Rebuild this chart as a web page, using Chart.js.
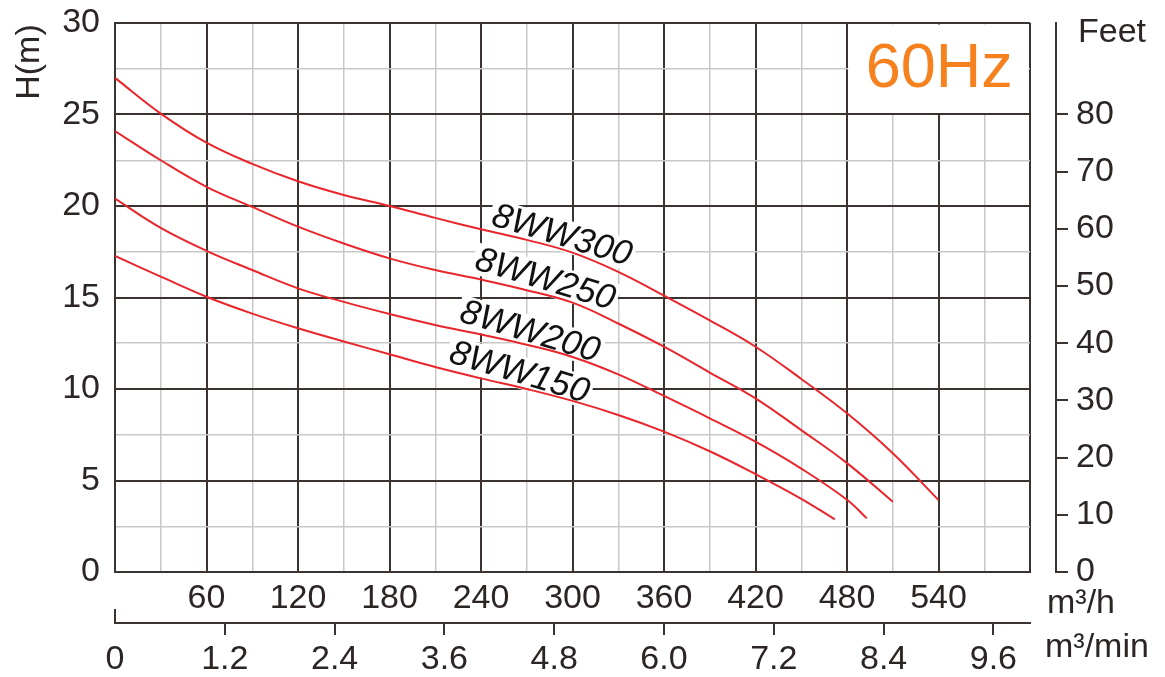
<!DOCTYPE html>
<html><head><meta charset="utf-8">
<script src="https://cdn.jsdelivr.net/npm/chart.js@4.4.1/dist/chart.umd.min.js"></script>
<style>html,body{margin:0;padding:0;background:#fff;overflow:hidden}</style>
</head><body>
<canvas id="c" width="1165" height="677"></canvas>
<script>
// ---- data ----
const flow300 = [0,30,60,90,120,150,180,210,240,270,300,330,360,390,420,450,480,510,540];
const head300 = [27.0,25.05,23.46,22.3,21.35,20.6,20.0,19.35,18.73,18.15,17.45,16.4,15.1,13.75,12.31,10.55,8.67,6.49,3.93];
const flow250 = [0,30,60,90,120,150,180,210,240,270,300,330,360,390,420,450,480,510];
const head250 = [24.1,22.5,21.05,19.95,18.87,17.95,17.14,16.5,15.98,15.4,14.72,13.58,12.31,10.9,9.49,7.75,5.95,3.84];
const flow200 = [0,30,60,90,120,150,180,210,240,270,300,330,360,390,420,450,480,493];
const head200 = [20.4,18.8,17.55,16.5,15.5,14.76,14.1,13.5,12.98,12.42,11.75,10.8,9.62,8.4,7.12,5.65,3.95,2.93];
const flow150 = [0,30,60,90,120,150,180,210,240,270,300,330,360,390,420,450,472];
const head150 = [17.27,16.14,15.04,14.12,13.32,12.6,11.9,11.2,10.58,10.0,9.35,8.58,7.67,6.6,5.35,4.0,2.88];
const modelNames = ['8WW300','8WW250','8WW200','8WW150'];
const flowTicksH = [60,120,180,240,300,360,420,480,540];          // m³/h labels
const flowTicksMin = [0,1.2,2.4,3.6,4.8,6.0,7.2,8.4,9.6];         // m³/min labels
const headTicks = [0,5,10,15,20,25,30];                           // H(m)
const feetTicks = [0,10,20,30,40,50,60,70,80];                    // Feet
const freqLabel = '60Hz';

// ---- styles ----
const DARK = '#3a3330', LIGHT = '#c8c8c8', RED = '#e8262b', TXT = '#2b2523', ORANGE = '#f5821f';
const FONT = 'Liberation Sans, Arial, sans-serif';
const tickFont = {family: FONT, size: 34};
// label anchors in data units (m³/h, m)
const labelAnchors = [[293,18.36],[282,15.96],[272,13.1],[265,10.87]];
const labelAngle = 0.29;

const pairs = (xs, ys) => xs.map((x,i)=>({x, y: ys[i]}));
const mkSet = (xs, ys) => ({data: pairs(xs, ys), xAxisID:'x', yAxisID:'y', borderColor: RED, borderWidth: 2,
  pointRadius: 0, fill: false, tension: 0.4});
const noPad = s => { s.paddingTop = 0; s.paddingBottom = 0; s.paddingLeft = 0; s.paddingRight = 0; };

const decor = {
  id: 'decor',
  beforeDatasetsDraw(chart) {
    const c = chart.ctx, a = chart.chartArea, sx = chart.scales.x, sy = chart.scales.y;
    c.save();
    // 60Hz box
    const bl = sx.getPixelForValue(480) + 1.5, bb = sy.getPixelForValue(25) - 1.5;
    c.fillStyle = '#fff';
    c.fillRect(bl, a.top + 1.5, a.right - 1.5 - bl, bb - a.top - 1.5);
    c.fillStyle = ORANGE; c.font = '63px ' + FONT; c.textAlign = 'center'; c.textBaseline = 'middle';
    c.fillText(freqLabel, (bl + a.right) / 2, (a.top + bb) / 2 + 2);
    // curve labels
    c.font = 'italic 35px ' + FONT;
    modelNames.forEach((name, i) => {
      const px = sx.getPixelForValue(labelAnchors[i][0]), py = sy.getPixelForValue(labelAnchors[i][1]);
      c.save(); c.translate(px, py); c.rotate(labelAngle);
      const w = c.measureText(name).width;
      c.fillStyle = '#fff'; c.fillRect(-w/2 - 3, -17, w + 6, 32);
      c.fillStyle = '#111'; c.textAlign = 'center'; c.textBaseline = 'middle';
      c.fillText(name, 0, 0);
      c.restore();
    });
    c.restore();
  },
  afterDraw(chart) {
    const c = chart.ctx, a = chart.chartArea, s2 = chart.scales.x2;
    c.save();
    c.fillStyle = TXT; c.font = '34px ' + FONT;
    // H(m)
    c.save(); c.translate(30, 62); c.rotate(-Math.PI/2);
    c.textAlign = 'center'; c.textBaseline = 'middle'; c.fillText('H(m)', 0, 0); c.restore();
    c.textAlign = 'left'; c.textBaseline = 'middle';
    c.fillText('Feet', 1078, 33);
    c.fillText('m³/h', 1047, 604);
    c.fillText('m³/min', 1045, 648);
    // upward tick at 0 of m³/min axis
    c.strokeStyle = DARK; c.lineWidth = 2;
    c.beginPath(); c.moveTo(a.left, s2.top - 14); c.lineTo(a.left, s2.top + 1); c.stroke();
    c.restore();
  }
};

new Chart(document.getElementById('c').getContext('2d'), {
  type: 'line',
  data: {datasets: [mkSet(flow300, head300), mkSet(flow250, head250), mkSet(flow200, head200), mkSet(flow150, head150)]},
  options: {
    responsive: false, animation: false, devicePixelRatio: 1,
    layout: {padding: {top: 23, left: 0, right: 0, bottom: 0}},
    plugins: {legend: {display: false}, tooltip: {enabled: false}},
    scales: {
      x: {
        type: 'linear', position: 'bottom', weight: 0, min: 0, max: 600,
        afterFit(s) { s.height = 51; noPad(s); },
        ticks: {stepSize: 30, autoSkip: false, maxRotation: 0, padding: 6, font: tickFont, color: TXT,
          callback(v) { return flowTicksH.includes(v) ? String(v) : ''; }},
        grid: {drawTicks: false, color: ctx => (ctx.tick && ctx.tick.value % 60 === 0) ? DARK : LIGHT,
          lineWidth: ctx => (ctx.tick && ctx.tick.value % 60 === 0) ? 2 : 1.5},
        border: {display: true, color: DARK, width: 2}
      },
      x2: {
        type: 'linear', position: 'bottom', weight: 1, min: 0, max: 10,
        afterBuildTicks(s) { s.ticks = flowTicksMin.map(v => ({value: v})); },
        afterFit(s) { s.height = 54; noPad(s); },
        ticks: {autoSkip: false, maxRotation: 0, padding: 4, font: tickFont, color: TXT,
          callback(v) { return v === 0 ? '0' : v.toFixed(1); }},
        grid: {drawOnChartArea: false, drawTicks: true, tickLength: 12, lineWidth: 2,
          tickColor: ctx => (ctx.tick && ctx.tick.value === 0) ? 'rgba(0,0,0,0)' : DARK},
        border: {display: true, color: DARK, width: 2}
      },
      y: {
        type: 'linear', position: 'left', min: 0, max: 30,
        afterFit(s) { s.width = 115; noPad(s); },
        ticks: {stepSize: 2.5, padding: 15, font: tickFont, color: TXT,
          callback(v) { return headTicks.includes(v) ? String(v) : ''; }},
        grid: {drawTicks: false, color: ctx => (ctx.tick && ctx.tick.value % 5 === 0) ? DARK : LIGHT,
          lineWidth: ctx => (ctx.tick && ctx.tick.value % 5 === 0) ? 2 : 1.5},
        border: {display: true, color: DARK, width: 2}
      },
      ySpacer: {
        type: 'linear', position: 'right', weight: 0, min: 0, max: 1,
        afterFit(s) { s.width = 26; noPad(s); },
        ticks: {display: false}, grid: {display: false}, border: {display: false}
      },
      yFeet: {
        type: 'linear', position: 'right', weight: 1, min: 0, max: 96,
        afterBuildTicks(s) { s.ticks = feetTicks.map(v => ({value: v})); },
        afterFit(s) { s.width = 109; noPad(s); },
        ticks: {padding: 8, font: tickFont, color: TXT, callback(v) { return String(v); }},
        grid: {drawOnChartArea: false, tickLength: 12, lineWidth: 2, tickColor: DARK},
        border: {display: true, color: DARK, width: 2}
      }
    }
  },
  plugins: [decor]
});
</script>
</body></html>
